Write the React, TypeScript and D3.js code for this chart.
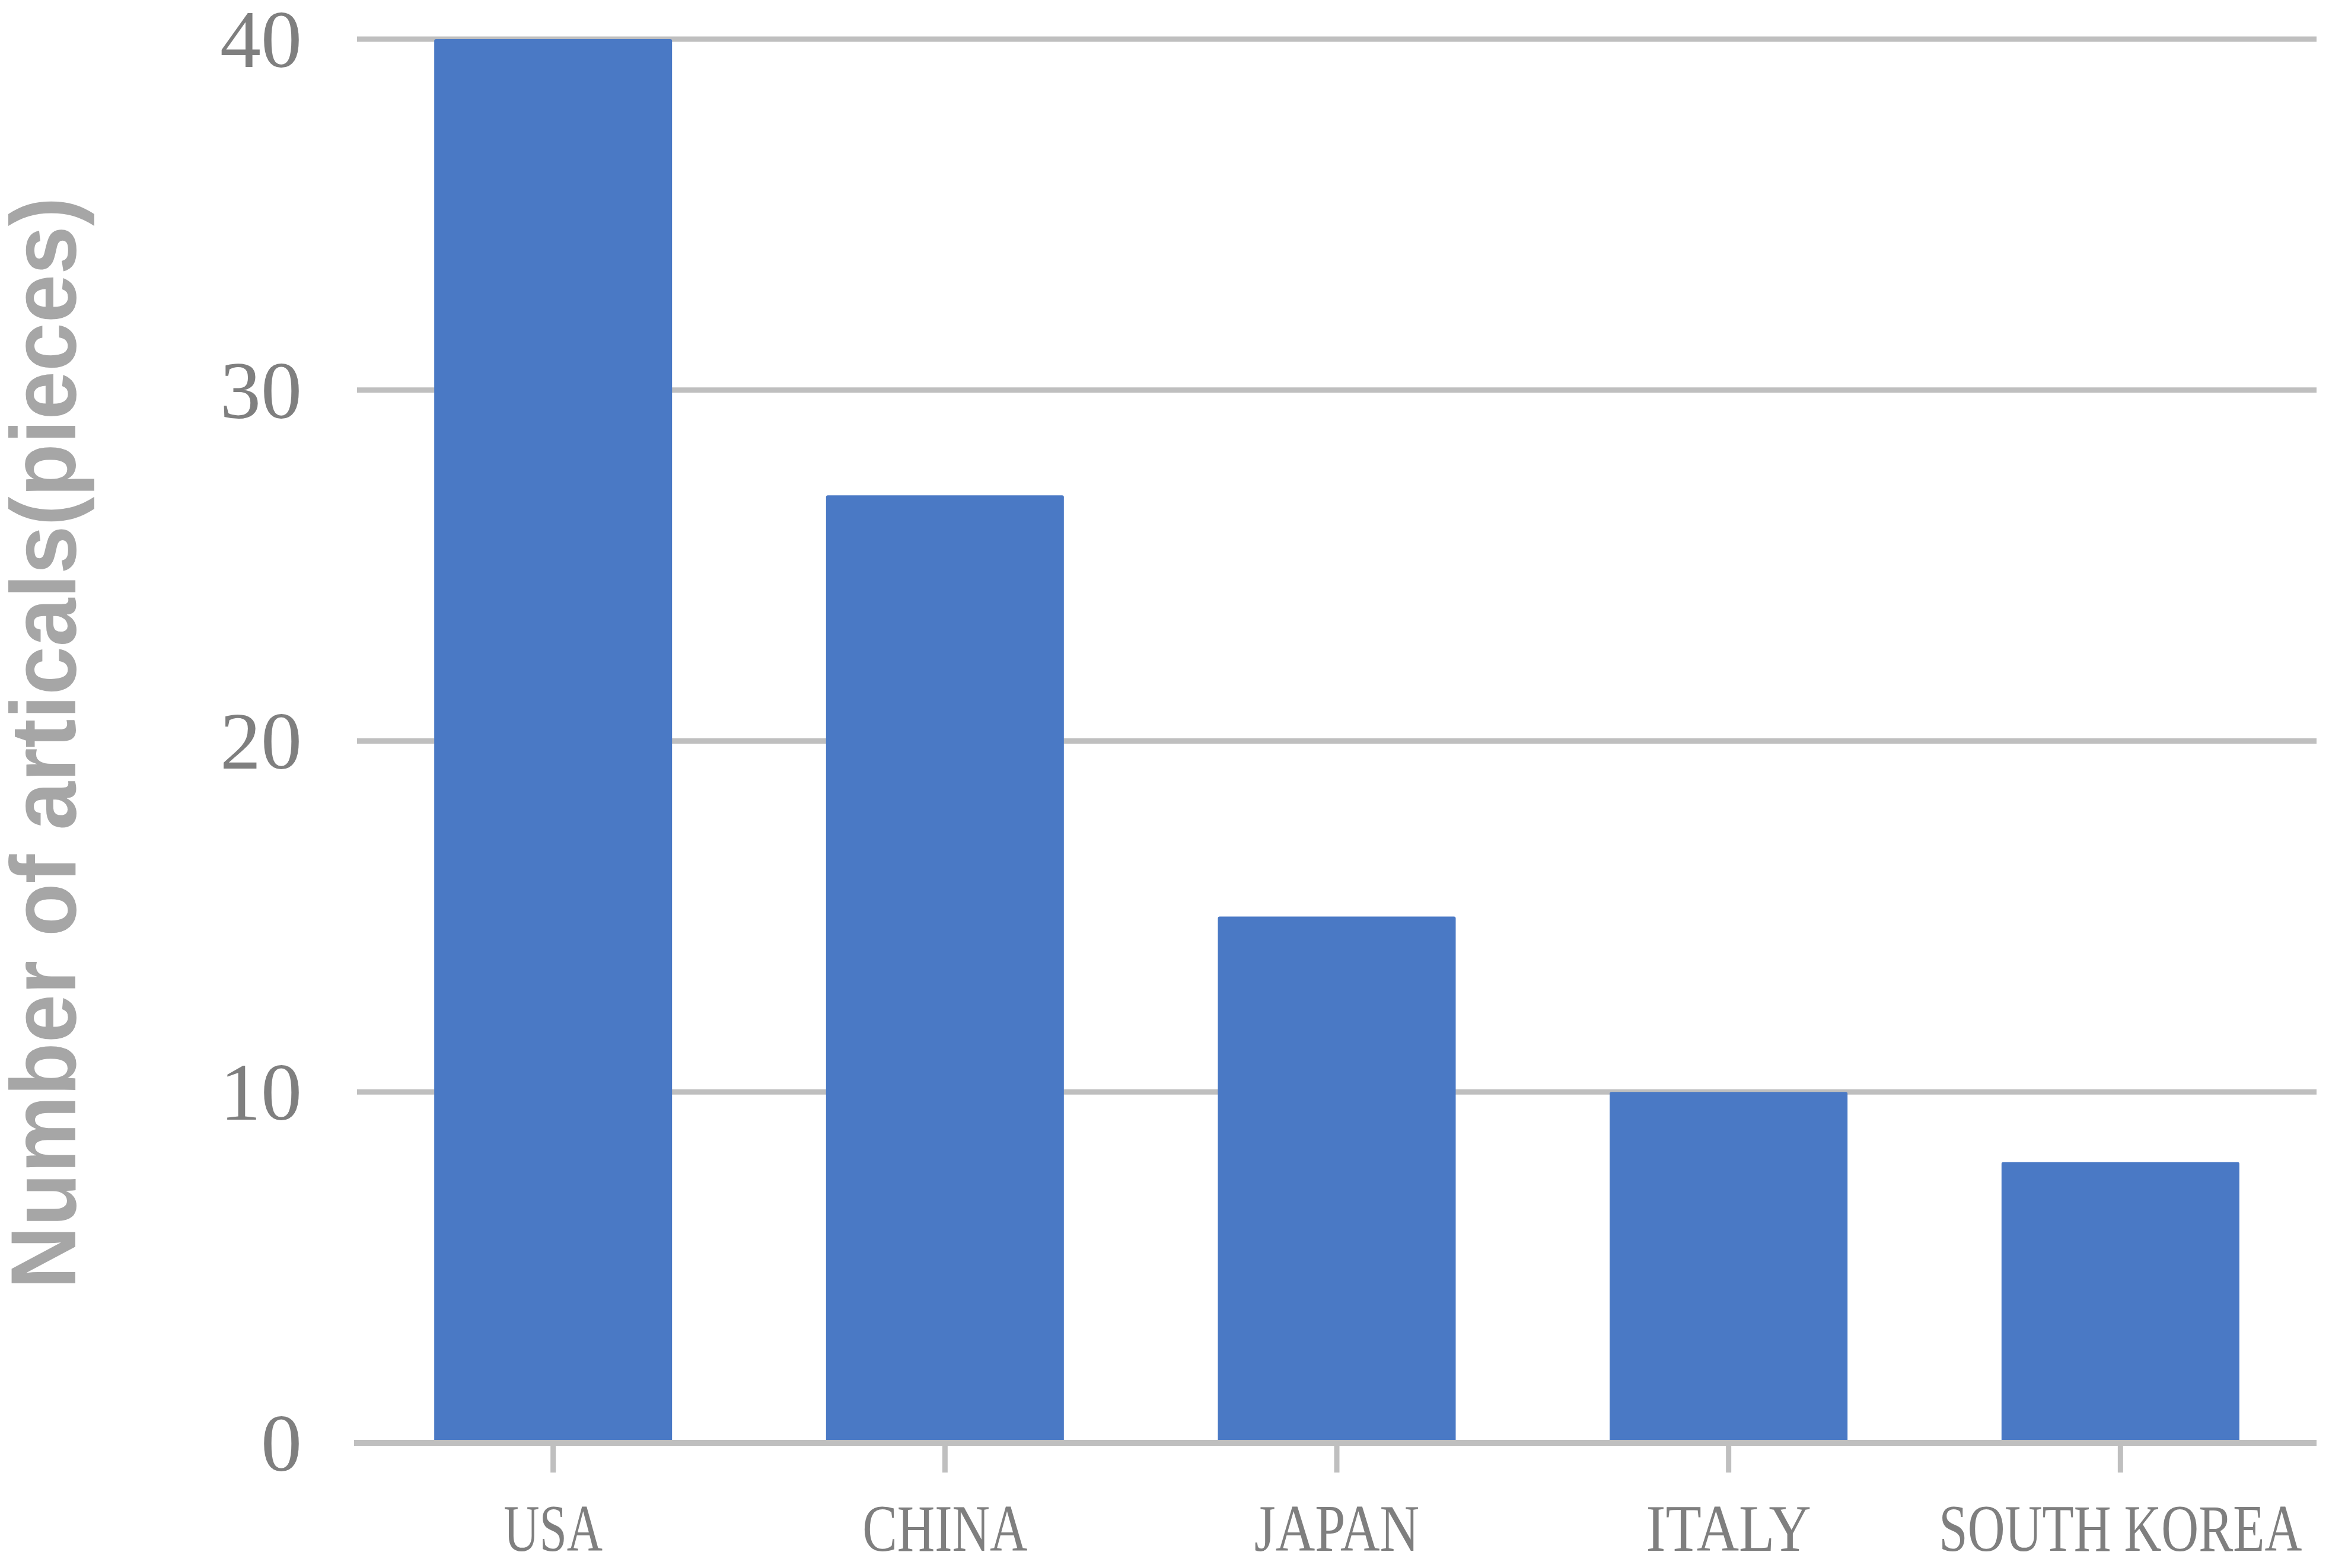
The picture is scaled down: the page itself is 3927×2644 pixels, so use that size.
import React from "react";
import * as d3 from "d3";

const categories = ["USA", "CHINA", "JAPAN", "ITALY", "SOUTH KOREA"];
const values = [40, 27, 15, 10, 8];
const yTicks = [0, 10, 20, 30, 40];
const yTitle = "Number of articals(pieces)";

const W = 3927;
const H = 2644;
const left = 597;
const right = 3906;
const top = 66;
const bottom = 2433;

export default function App() {
  const x = d3
    .scaleBand<string>()
    .domain(categories)
    .range([left + 5, right])
    .paddingInner(0.393)
    .paddingOuter(0.197);
  const y = d3.scaleLinear().domain([0, 40]).range([bottom, top]);

  const grid = "#bfbfbf";
  const xFont = 113;
  const yFont = 138;

  return (
    <svg
      width={W}
      height={H}
      style={{ position: "absolute", left: 0, top: 0, background: "#fff" }}
    >
      <rect x={0} y={0} width={W} height={H} fill="#ffffff" />
      {yTicks
        .filter((t) => t !== 0)
        .map((t) => (
          <line
            key={"g" + t}
            x1={left + 5}
            x2={right}
            y1={y(t)}
            y2={y(t)}
            stroke={grid}
            strokeWidth={9}
          />
        ))}
      {categories.map((c, i) => (
        <rect
          key={c}
          x={x(c)}
          y={y(values[i])}
          width={x.bandwidth()}
          height={y(0) - y(values[i])}
          fill="#4a79c5"
          rx={3}
        />
      ))}
      <line x1={left} x2={right} y1={y(0)} y2={y(0)} stroke={grid} strokeWidth={10} />
      {categories.map((c) => (
        <line
          key={"t" + c}
          x1={(x(c) as number) + x.bandwidth() / 2}
          x2={(x(c) as number) + x.bandwidth() / 2}
          y1={y(0)}
          y2={y(0) + 50}
          stroke={grid}
          strokeWidth={9}
        />
      ))}
      {yTicks.map((t) => (
        <text
          key={"y" + t}
          x={509}
          y={y(t)}
          dy="0.34em"
          textAnchor="end"
          fontFamily="'Liberation Serif', 'DejaVu Serif', serif"
          fontSize={yFont}
          fill="#7f7f7f"
        >
          {t}
        </text>
      ))}
      {categories.map((c) => (
        <text
          key={"x" + c}
          x={(x(c) as number) + x.bandwidth() / 2}
          y={2615}
          textAnchor="middle"
          fontFamily="'Liberation Serif', 'DejaVu Serif', serif"
          fontSize={xFont}
          fill="#7f7f7f"
          textLength={c.length * 0.5 * xFont * 0.985}
          lengthAdjust="spacingAndGlyphs"
        >
          {c}
        </text>
      ))}
      <text
        transform={`translate(127, 1253) rotate(-90)`}
        textAnchor="middle"
        fontFamily="'Liberation Sans', Arial, sans-serif"
        fontWeight="bold"
        fontSize={155}
        fill="#a6a6a6"
        textLength={1841}
        lengthAdjust="spacingAndGlyphs"
      >
        {yTitle}
      </text>
    </svg>
  );
}
